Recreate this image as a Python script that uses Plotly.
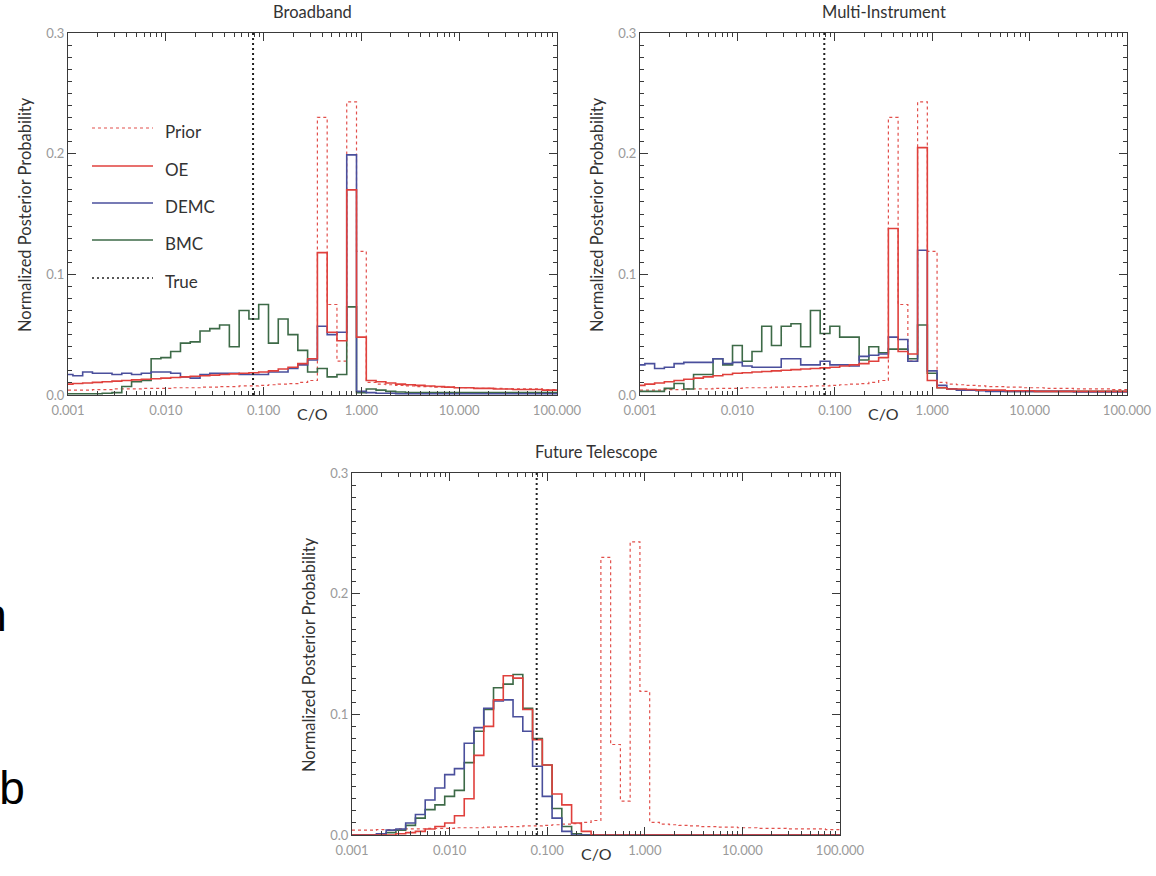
import plotly.graph_objects as go

# ---------------------------------------------------------------------------
# Data: normalized posterior histograms of C/O, bins of 0.1 dex (centres)
# ---------------------------------------------------------------------------
co_log_bins = [round(-3.0 + 0.1 * i, 1) for i in range(51)]   # log10(C/O) bin centres
co_bins = [10 ** v for v in co_log_bins]
true_co = 0.078

x_tick_vals = [0.001, 0.01, 0.1, 1.0, 10.0, 100.0]
x_tick_text = ["0.001", "0.010", "0.100", "1.000", "10.000", "100.000"]
y_tick_vals = [0.0, 0.1, 0.2, 0.3]

prior = [
    0.004, 0.004, 0.004, 0.0045, 0.0045, 0.005, 0.005, 0.005, 0.0055, 0.0055,
    0.0055, 0.006, 0.006, 0.006, 0.0065, 0.0065, 0.007, 0.007, 0.0075, 0.0075,
    0.008, 0.0085, 0.009, 0.0095, 0.0105, 0.012, 0.230, 0.075, 0.028, 0.243,
    0.119, 0.0105, 0.009, 0.0085, 0.008, 0.0075, 0.007, 0.007, 0.0065, 0.0065,
    0.006, 0.006, 0.0055, 0.0055, 0.0055, 0.005, 0.005, 0.005, 0.005, 0.0045,
    0.0045]

broadband_oe = [
    0.009, 0.0095, 0.010, 0.0105, 0.011, 0.0115, 0.012, 0.0125, 0.013, 0.0135,
    0.014, 0.0145, 0.015, 0.0155, 0.016, 0.0165, 0.017, 0.0175, 0.018, 0.0185,
    0.019, 0.020, 0.0215, 0.023, 0.026, 0.030, 0.118, 0.052, 0.045, 0.170,
    0.048, 0.012, 0.011, 0.010, 0.009, 0.0085, 0.008, 0.0075, 0.007, 0.0065,
    0.006, 0.006, 0.0055, 0.0055, 0.005, 0.005, 0.0045, 0.0045, 0.0045, 0.004,
    0.004]
broadband_demc = [
    0.017, 0.016, 0.019, 0.018, 0.018, 0.017, 0.018, 0.017, 0.018, 0.019,
    0.019, 0.018, 0.015, 0.014, 0.017, 0.018, 0.018, 0.018, 0.017, 0.017,
    0.017, 0.019, 0.019, 0.022, 0.025, 0.029, 0.057, 0.050, 0.052, 0.199,
    0.003, 0.002, 0.0015, 0.0015, 0.001, 0.001, 0.001, 0.001, 0.001, 0.001,
    0.001, 0.001, 0.001, 0.001, 0.001, 0.001, 0.001, 0.001, 0.001, 0.001,
    0.001]
broadband_bmc = [
    0.001, 0.001, 0.001, 0.001, 0.0015, 0.002, 0.007, 0.011, 0.012, 0.030,
    0.031, 0.036, 0.043, 0.044, 0.053, 0.055, 0.058, 0.040, 0.070, 0.063,
    0.075, 0.043, 0.063, 0.050, 0.037, 0.019, 0.022, 0.015, 0.017, 0.073,
    0.002, 0.005, 0.004, 0.003, 0.0025, 0.002, 0.002, 0.002, 0.002, 0.002,
    0.002, 0.002, 0.002, 0.002, 0.002, 0.002, 0.002, 0.002, 0.002, 0.002,
    0.002]

multi_oe = [
    0.008, 0.009, 0.010, 0.011, 0.012, 0.013, 0.014, 0.015, 0.016, 0.017,
    0.018, 0.0185, 0.019, 0.0195, 0.020, 0.0205, 0.021, 0.0215, 0.022, 0.0225,
    0.023, 0.024, 0.025, 0.026, 0.028, 0.031, 0.138, 0.036, 0.034, 0.205,
    0.012, 0.006, 0.005, 0.005, 0.0045, 0.004, 0.004, 0.004, 0.0035, 0.0035,
    0.0035, 0.003, 0.003, 0.003, 0.003, 0.003, 0.003, 0.003, 0.003, 0.003,
    0.003]
multi_demc = [
    0.025, 0.026, 0.022, 0.023, 0.026, 0.027, 0.027, 0.027, 0.030, 0.026,
    0.027, 0.024, 0.023, 0.023, 0.023, 0.030, 0.030, 0.025, 0.025, 0.028,
    0.025, 0.025, 0.024, 0.032, 0.033, 0.034, 0.048, 0.046, 0.028, 0.120,
    0.020, 0.008, 0.005, 0.004, 0.004, 0.0035, 0.003, 0.003, 0.003, 0.003,
    0.003, 0.003, 0.003, 0.003, 0.003, 0.0025, 0.0025, 0.0025, 0.0025, 0.0025,
    0.0025]
multi_bmc = [
    0.003, 0.003, 0.003, 0.0055, 0.0095, 0.005, 0.017, 0.017, 0.030, 0.025,
    0.041, 0.028, 0.036, 0.057, 0.041, 0.057, 0.059, 0.040, 0.070, 0.051,
    0.057, 0.048, 0.048, 0.029, 0.040, 0.035, 0.038, 0.038, 0.030, 0.058,
    0.018, 0.006, 0.005, 0.004, 0.004, 0.004, 0.0035, 0.0035, 0.003, 0.003,
    0.003, 0.003, 0.003, 0.003, 0.003, 0.003, 0.003, 0.003, 0.003, 0.003,
    0.003]

future_oe = [
    0.0, 0.0, 0.0, 0.0, 0.0, 0.001, 0.002, 0.003, 0.005, 0.007,
    0.010, 0.016, 0.030, 0.066, 0.090, 0.112, 0.132, 0.130, 0.104, 0.079,
    0.058, 0.034, 0.025, 0.010, 0.003, 0.0, 0.0, 0.0, 0.0, 0.0,
    0.0, 0.0, 0.0, 0.0, 0.0, 0.0, 0.0, 0.0, 0.0, 0.0,
    0.0, 0.0, 0.0, 0.0, 0.0, 0.0, 0.0, 0.0, 0.0, 0.0,
    0.0]
future_demc = [
    0.0, 0.0, 0.0, 0.001, 0.004, 0.005, 0.010, 0.017, 0.029, 0.039,
    0.050, 0.055, 0.076, 0.089, 0.105, 0.111, 0.112, 0.098, 0.086, 0.057,
    0.032, 0.014, 0.003, 0.0, 0.0, 0.0, 0.0, 0.0, 0.0, 0.0,
    0.0, 0.0, 0.0, 0.0, 0.0, 0.0, 0.0, 0.0, 0.0, 0.0,
    0.0, 0.0, 0.0, 0.0, 0.0, 0.0, 0.0, 0.0, 0.0, 0.0,
    0.0]
future_bmc = [
    0.0, 0.0, 0.0, 0.0, 0.002, 0.004, 0.008, 0.014, 0.021, 0.025,
    0.032, 0.037, 0.060, 0.086, 0.104, 0.122, 0.125, 0.133, 0.105, 0.080,
    0.058, 0.022, 0.007, 0.001, 0.0, 0.0, 0.0, 0.0, 0.0, 0.0,
    0.0, 0.0, 0.0, 0.0, 0.0, 0.0, 0.0, 0.0, 0.0, 0.0,
    0.0, 0.0, 0.0, 0.0, 0.0, 0.0, 0.0, 0.0, 0.0, 0.0,
    0.0]

# ---------------------------------------------------------------------------
# Styling
# ---------------------------------------------------------------------------
W, H = 1156, 876
FONT = "Lato, 'Open Sans', sans-serif"
PRIOR_COLOR = "#e2504c"
OE_COLOR = "#e0403c"
DEMC_COLOR = "#4a4f9c"
BMC_COLOR = "#3d6a47"
TRUE_COLOR = "#222222"
AXIS_COLOR = "#3a3a3a"
TICKLABEL_COLOR = "#9a9a9a"
TEXT_COLOR = "#333333"

# panel boxes in pixels: left, right, top, bottom
panels = [
    dict(title="Broadband", box=(68, 557, 33, 395),
         oe=broadband_oe, demc=broadband_demc, bmc=broadband_bmc),
    dict(title="Multi-Instrument", box=(640, 1127, 33, 395),
         oe=multi_oe, demc=multi_demc, bmc=multi_bmc),
    dict(title="Future Telescope", box=(352, 840, 473, 835),
         oe=future_oe, demc=future_demc, bmc=future_bmc),
]


def px_x(v):
    return v / W


def px_y(v):
    return 1 - v / H


fig = go.Figure()
annotations = []
shapes = []

for k, p in enumerate(panels, start=1):
    xa = "x" if k == 1 else f"x{k}"
    ya = "y" if k == 1 else f"y{k}"
    left, right, top, bottom = p["box"]

    def step(y, color, width, dash="solid"):
        fig.add_trace(go.Scatter(
            x=co_bins, y=y, mode="lines", xaxis=xa, yaxis=ya,
            line=dict(color=color, width=width, dash=dash, shape="hvh"),
            hoverinfo="skip", showlegend=False))

    step(prior, PRIOR_COLOR, 1.2, "3px,3px")
    step(p["bmc"], BMC_COLOR, 1.6)
    step(p["demc"], DEMC_COLOR, 1.6)
    step(p["oe"], OE_COLOR, 1.6)
    fig.add_trace(go.Scatter(
        x=[true_co, true_co], y=[0, 0.3], mode="lines", xaxis=xa, yaxis=ya,
        line=dict(color=TRUE_COLOR, width=2, dash="2px,3px"),
        hoverinfo="skip", showlegend=False))

    xkey = "xaxis" if k == 1 else f"xaxis{k}"
    ykey = "yaxis" if k == 1 else f"yaxis{k}"
    fig.update_layout(**{
        xkey: dict(
            type="log", range=[-3, 2], domain=[px_x(left), px_x(right)],
            anchor=ya, tickvals=x_tick_vals, ticktext=x_tick_text,
            ticks="inside", ticklen=8, tickwidth=1, tickcolor=AXIS_COLOR,
            showline=True, linecolor=AXIS_COLOR, linewidth=1.2, mirror="allticks",
            showgrid=False, zeroline=False, automargin=False,
            ticklabelstandoff=3,
            tickfont=dict(family=FONT, size=13, color=TICKLABEL_COLOR),
            minor=dict(ticks="inside", ticklen=4, tickwidth=1, tickcolor=AXIS_COLOR,
                       dtick="D1", showgrid=False),
        ),
        ykey: dict(
            range=[0, 0.3], domain=[px_y(bottom), px_y(top)], anchor=xa,
            tickvals=y_tick_vals, tickformat=".1f",
            ticks="inside", ticklen=8, tickwidth=1, tickcolor=AXIS_COLOR,
            showline=True, linecolor=AXIS_COLOR, linewidth=1.2, mirror="allticks",
            showgrid=False, zeroline=False, automargin=False,
            tickfont=dict(family=FONT, size=13, color=TICKLABEL_COLOR),
            minor=dict(ticks="inside", ticklen=4, tickwidth=1, tickcolor=AXIS_COLOR,
                       dtick=0.01, showgrid=False),
        ),
    })

    cx = (left + right) / 2
    # panel title
    annotations.append(dict(
        text=p["title"], x=px_x(cx), y=px_y(top - 21), xref="paper", yref="paper",
        xanchor="center", yanchor="middle", showarrow=False,
        font=dict(family=FONT, size=16.5, color=TEXT_COLOR)))
    # x-axis title
    annotations.append(dict(
        text="C/O", x=px_x(cx), y=px_y(bottom + 18), xref="paper", yref="paper",
        xanchor="center", yanchor="middle", showarrow=False,
        font=dict(family=FONT, size=16, color=TEXT_COLOR)))
    # y-axis title
    annotations.append(dict(
        text="Normalized Posterior Probability", textangle=-90,
        x=px_x(left - 43), y=px_y((top + bottom) / 2 + 1), xref="paper", yref="paper",
        xanchor="center", yanchor="middle", showarrow=False,
        font=dict(family=FONT, size=16.5, color=TEXT_COLOR)))

# legend inside the Broadband panel
legend_rows = [
    ("Prior", PRIOR_COLOR, "3px,3px", 1.2, 128),
    ("OE", OE_COLOR, "solid", 1.6, 166),
    ("DEMC", DEMC_COLOR, "solid", 1.6, 203),
    ("BMC", BMC_COLOR, "solid", 1.6, 240),
    ("True", TRUE_COLOR, "2px,3px", 1.6, 278),
]
for label, color, dash, width, ypix in legend_rows:
    shapes.append(dict(
        type="line", xref="paper", yref="paper",
        x0=px_x(92), x1=px_x(153), y0=px_y(ypix), y1=px_y(ypix),
        line=dict(color=color, width=width, dash=dash)))
    annotations.append(dict(
        text=label, x=px_x(163), y=px_y(ypix + 4), xref="paper", yref="paper",
        xanchor="left", yanchor="middle", showarrow=False,
        font=dict(family=FONT, size=17, color=TEXT_COLOR)))

# panel letters at the page edge, on a small pixel-scaled overlay (lower-left
# corner only) so the partly hidden letter is clipped at the page border
OV_LEFT, OV_RIGHT, OV_TOP, OV_BOTTOM = 0, 60, 560, 876
page_letters = ["n", "b"]
page_letter_x = [-6, 12]
page_letter_y = [619, 792]
fig.add_trace(go.Scatter(
    x=page_letter_x, y=page_letter_y, mode="text", text=page_letters,
    textposition="middle center", xaxis="x4", yaxis="y4", cliponaxis=True,
    textfont=dict(family="Liberation Sans, Arial, sans-serif", size=46, color="#000000"),
    hoverinfo="skip", showlegend=False))
fig.update_layout(
    xaxis4=dict(domain=[px_x(OV_LEFT), px_x(OV_RIGHT)], range=[OV_LEFT, OV_RIGHT],
                visible=False, anchor="y4", automargin=False, fixedrange=True),
    yaxis4=dict(domain=[px_y(OV_BOTTOM), px_y(OV_TOP)], range=[OV_BOTTOM, OV_TOP],
                visible=False, anchor="x4", automargin=False, fixedrange=True),
)

fig.update_layout(
    width=W, height=H,
    margin=dict(l=0, r=0, t=0, b=0, pad=0),
    paper_bgcolor="white", plot_bgcolor="white",
    showlegend=False,
    annotations=annotations,
    shapes=shapes,
)

fig.write_html("out.html")
